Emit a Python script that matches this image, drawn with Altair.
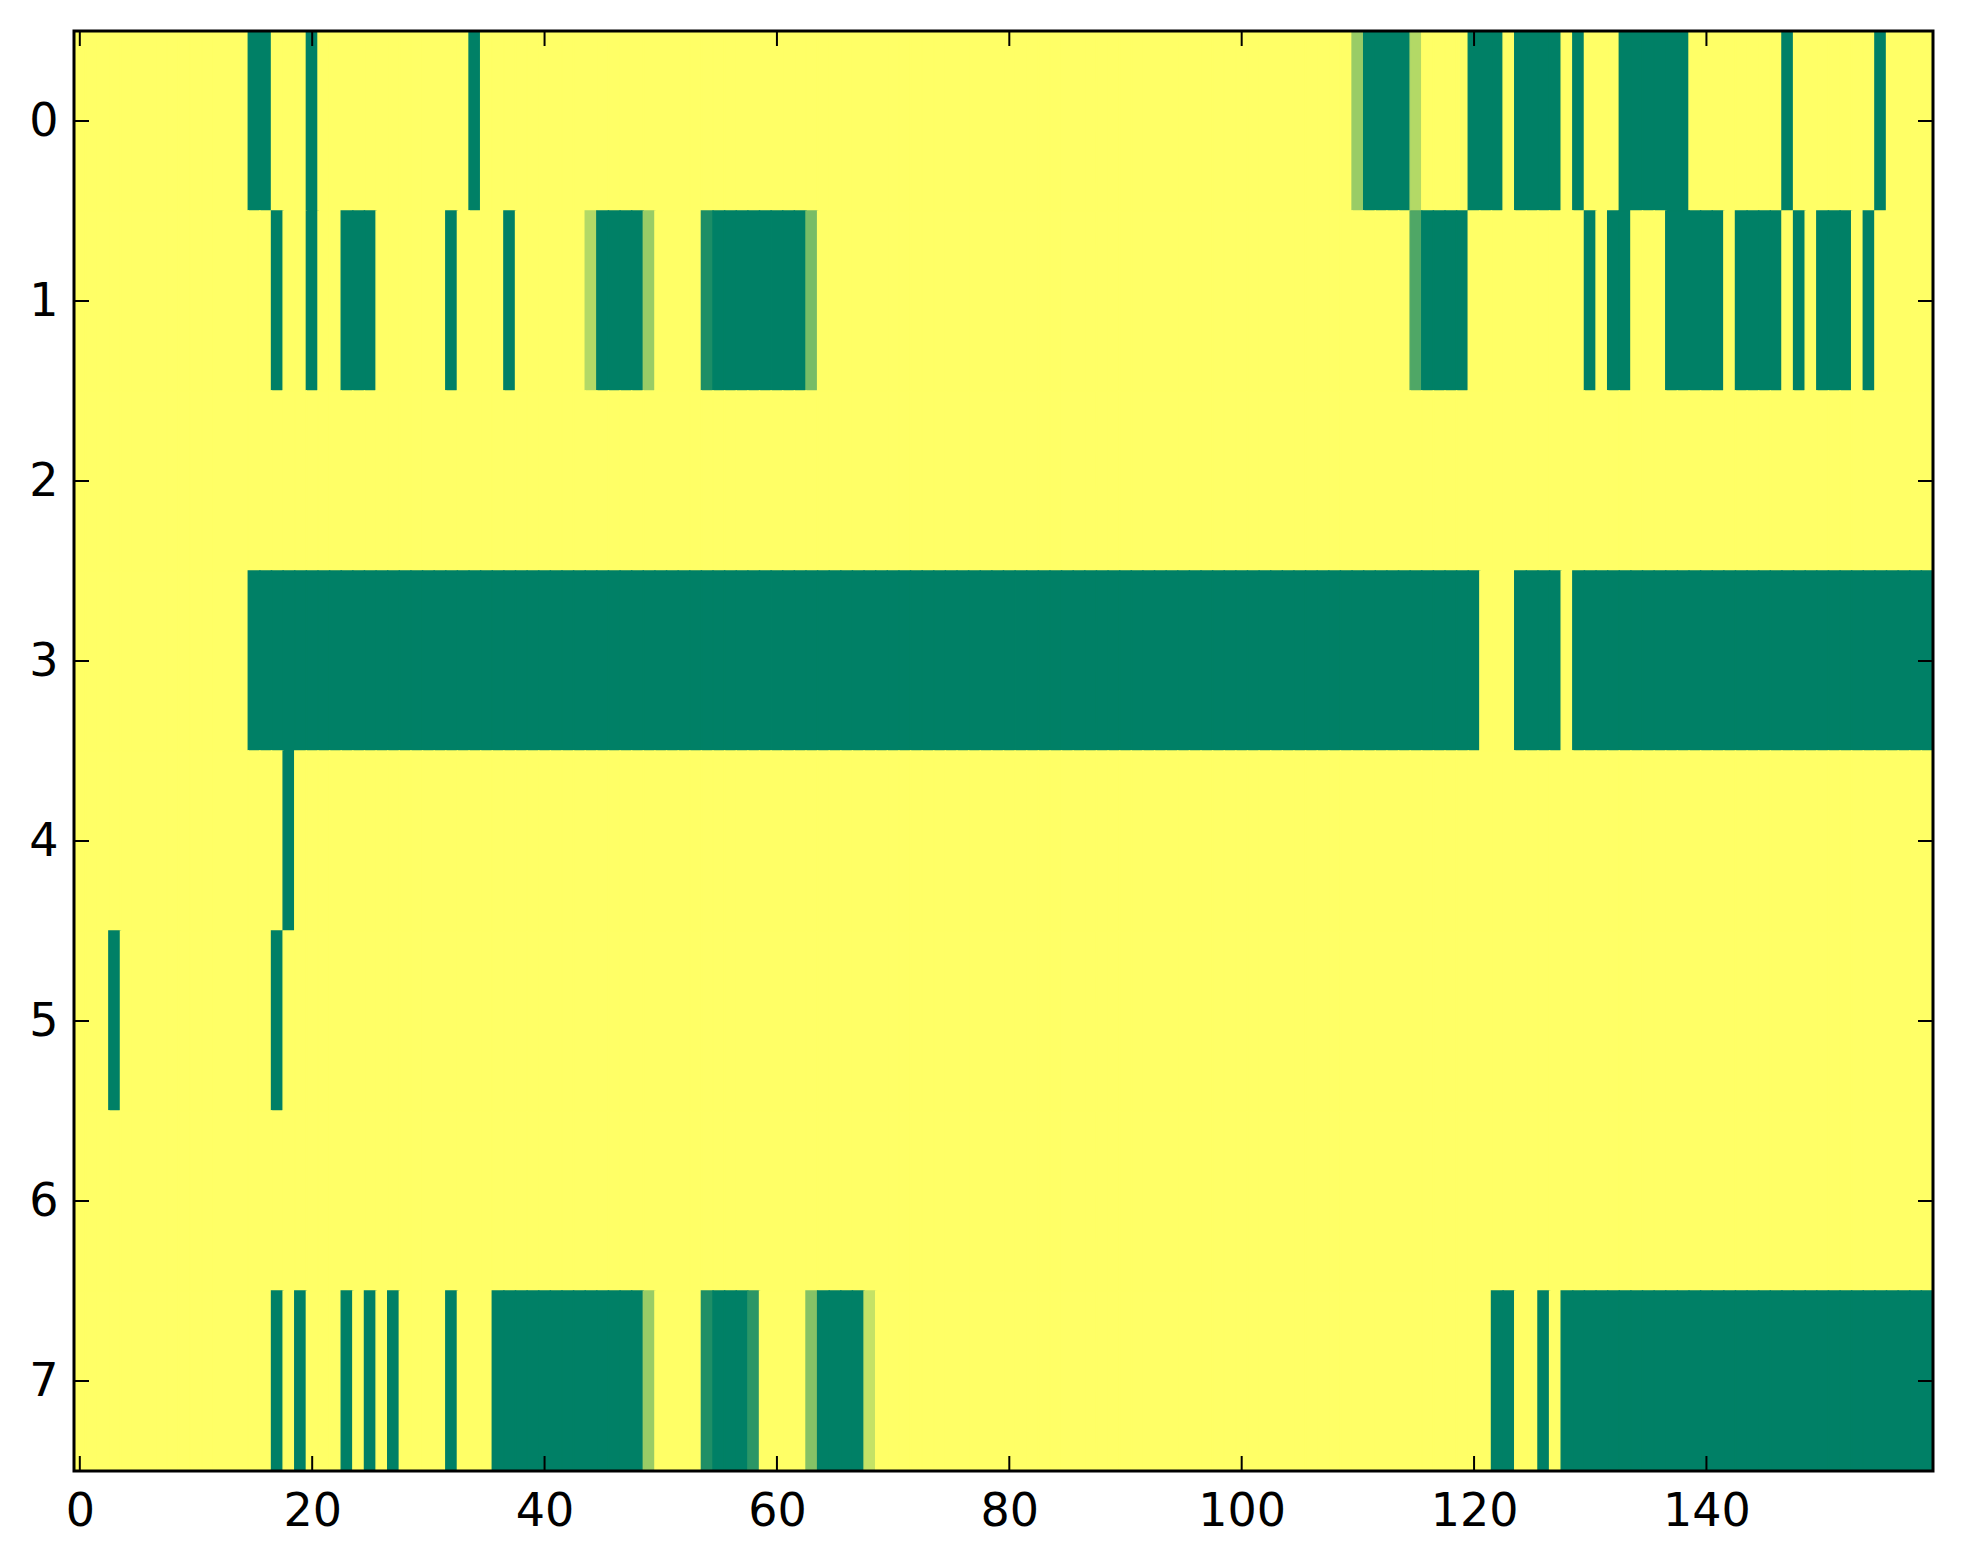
import altair as alt
import pandas as pd

# ---- cell values (8 rows x 160 columns) ----
row0 = [
    1, 1, 1, 1, 1, 1, 1, 1, 1, 1, 1, 1, 1, 1, 1, 0, 0, 1, 1, 1,
    0, 1, 1, 1, 1, 1, 1, 1, 1, 1, 1, 1, 1, 1, 0, 1, 1, 1, 1, 1,
    1, 1, 1, 1, 1, 1, 1, 1, 1, 1, 1, 1, 1, 1, 1, 1, 1, 1, 1, 1,
    1, 1, 1, 1, 1, 1, 1, 1, 1, 1, 1, 1, 1, 1, 1, 1, 1, 1, 1, 1,
    1, 1, 1, 1, 1, 1, 1, 1, 1, 1, 1, 1, 1, 1, 1, 1, 1, 1, 1, 1,
    1, 1, 1, 1, 1, 1, 1, 1, 1, 1, 0.6, 0, 0, 0, 0, 0.7, 1, 1, 1, 1,
    0, 0, 0, 1, 0, 0, 0, 0, 1, 0, 1, 1, 1, 0, 0, 0, 0, 0, 0, 1,
    1, 1, 1, 1, 1, 1, 1, 0, 1, 1, 1, 1, 1, 1, 1, 0, 1, 1, 1, 1,
]
row1 = [
    1, 1, 1, 1, 1, 1, 1, 1, 1, 1, 1, 1, 1, 1, 1, 1, 1, 0, 1, 1,
    0, 1, 1, 0, 0, 0, 1, 1, 1, 1, 1, 1, 0, 1, 1, 1, 1, 0, 1, 1,
    1, 1, 1, 1, 0.7, 0, 0, 0, 0, 0.6, 1, 1, 1, 1, 0.11, 0, 0, 0, 0, 0,
    0, 0, 0, 0.47, 1, 1, 1, 1, 1, 1, 1, 1, 1, 1, 1, 1, 1, 1, 1, 1,
    1, 1, 1, 1, 1, 1, 1, 1, 1, 1, 1, 1, 1, 1, 1, 1, 1, 1, 1, 1,
    1, 1, 1, 1, 1, 1, 1, 1, 1, 1, 1, 1, 1, 1, 1, 0.31, 0, 0, 0, 0,
    1, 1, 1, 1, 1, 1, 1, 1, 1, 1, 0, 1, 0, 0, 1, 1, 1, 0, 0, 0,
    0, 0, 1, 0, 0, 0, 0, 1, 0, 1, 0, 0, 0, 1, 0, 1, 1, 1, 1, 1,
]
row2 = [
    1, 1, 1, 1, 1, 1, 1, 1, 1, 1, 1, 1, 1, 1, 1, 1, 1, 1, 1, 1,
    1, 1, 1, 1, 1, 1, 1, 1, 1, 1, 1, 1, 1, 1, 1, 1, 1, 1, 1, 1,
    1, 1, 1, 1, 1, 1, 1, 1, 1, 1, 1, 1, 1, 1, 1, 1, 1, 1, 1, 1,
    1, 1, 1, 1, 1, 1, 1, 1, 1, 1, 1, 1, 1, 1, 1, 1, 1, 1, 1, 1,
    1, 1, 1, 1, 1, 1, 1, 1, 1, 1, 1, 1, 1, 1, 1, 1, 1, 1, 1, 1,
    1, 1, 1, 1, 1, 1, 1, 1, 1, 1, 1, 1, 1, 1, 1, 1, 1, 1, 1, 1,
    1, 1, 1, 1, 1, 1, 1, 1, 1, 1, 1, 1, 1, 1, 1, 1, 1, 1, 1, 1,
    1, 1, 1, 1, 1, 1, 1, 1, 1, 1, 1, 1, 1, 1, 1, 1, 1, 1, 1, 1,
]
row3 = [
    1, 1, 1, 1, 1, 1, 1, 1, 1, 1, 1, 1, 1, 1, 1, 0, 0, 0, 0, 0,
    0, 0, 0, 0, 0, 0, 0, 0, 0, 0, 0, 0, 0, 0, 0, 0, 0, 0, 0, 0,
    0, 0, 0, 0, 0, 0, 0, 0, 0, 0, 0, 0, 0, 0, 0, 0, 0, 0, 0, 0,
    0, 0, 0, 0, 0, 0, 0, 0, 0, 0, 0, 0, 0, 0, 0, 0, 0, 0, 0, 0,
    0, 0, 0, 0, 0, 0, 0, 0, 0, 0, 0, 0, 0, 0, 0, 0, 0, 0, 0, 0,
    0, 0, 0, 0, 0, 0, 0, 0, 0, 0, 0, 0, 0, 0, 0, 0, 0, 0, 0, 0,
    0, 1, 1, 1, 0, 0, 0, 0, 1, 0, 0, 0, 0, 0, 0, 0, 0, 0, 0, 0,
    0, 0, 0, 0, 0, 0, 0, 0, 0, 0, 0, 0, 0, 0, 0, 0, 0, 0, 0, 0,
]
row4 = [
    1, 1, 1, 1, 1, 1, 1, 1, 1, 1, 1, 1, 1, 1, 1, 1, 1, 1, 0, 1,
    1, 1, 1, 1, 1, 1, 1, 1, 1, 1, 1, 1, 1, 1, 1, 1, 1, 1, 1, 1,
    1, 1, 1, 1, 1, 1, 1, 1, 1, 1, 1, 1, 1, 1, 1, 1, 1, 1, 1, 1,
    1, 1, 1, 1, 1, 1, 1, 1, 1, 1, 1, 1, 1, 1, 1, 1, 1, 1, 1, 1,
    1, 1, 1, 1, 1, 1, 1, 1, 1, 1, 1, 1, 1, 1, 1, 1, 1, 1, 1, 1,
    1, 1, 1, 1, 1, 1, 1, 1, 1, 1, 1, 1, 1, 1, 1, 1, 1, 1, 1, 1,
    1, 1, 1, 1, 1, 1, 1, 1, 1, 1, 1, 1, 1, 1, 1, 1, 1, 1, 1, 1,
    1, 1, 1, 1, 1, 1, 1, 1, 1, 1, 1, 1, 1, 1, 1, 1, 1, 1, 1, 1,
]
row5 = [
    1, 1, 1, 0, 1, 1, 1, 1, 1, 1, 1, 1, 1, 1, 1, 1, 1, 0, 1, 1,
    1, 1, 1, 1, 1, 1, 1, 1, 1, 1, 1, 1, 1, 1, 1, 1, 1, 1, 1, 1,
    1, 1, 1, 1, 1, 1, 1, 1, 1, 1, 1, 1, 1, 1, 1, 1, 1, 1, 1, 1,
    1, 1, 1, 1, 1, 1, 1, 1, 1, 1, 1, 1, 1, 1, 1, 1, 1, 1, 1, 1,
    1, 1, 1, 1, 1, 1, 1, 1, 1, 1, 1, 1, 1, 1, 1, 1, 1, 1, 1, 1,
    1, 1, 1, 1, 1, 1, 1, 1, 1, 1, 1, 1, 1, 1, 1, 1, 1, 1, 1, 1,
    1, 1, 1, 1, 1, 1, 1, 1, 1, 1, 1, 1, 1, 1, 1, 1, 1, 1, 1, 1,
    1, 1, 1, 1, 1, 1, 1, 1, 1, 1, 1, 1, 1, 1, 1, 1, 1, 1, 1, 1,
]
row6 = [
    1, 1, 1, 1, 1, 1, 1, 1, 1, 1, 1, 1, 1, 1, 1, 1, 1, 1, 1, 1,
    1, 1, 1, 1, 1, 1, 1, 1, 1, 1, 1, 1, 1, 1, 1, 1, 1, 1, 1, 1,
    1, 1, 1, 1, 1, 1, 1, 1, 1, 1, 1, 1, 1, 1, 1, 1, 1, 1, 1, 1,
    1, 1, 1, 1, 1, 1, 1, 1, 1, 1, 1, 1, 1, 1, 1, 1, 1, 1, 1, 1,
    1, 1, 1, 1, 1, 1, 1, 1, 1, 1, 1, 1, 1, 1, 1, 1, 1, 1, 1, 1,
    1, 1, 1, 1, 1, 1, 1, 1, 1, 1, 1, 1, 1, 1, 1, 1, 1, 1, 1, 1,
    1, 1, 1, 1, 1, 1, 1, 1, 1, 1, 1, 1, 1, 1, 1, 1, 1, 1, 1, 1,
    1, 1, 1, 1, 1, 1, 1, 1, 1, 1, 1, 1, 1, 1, 1, 1, 1, 1, 1, 1,
]
row7 = [
    1, 1, 1, 1, 1, 1, 1, 1, 1, 1, 1, 1, 1, 1, 1, 1, 1, 0, 1, 0,
    1, 1, 1, 0, 1, 0, 1, 0, 1, 1, 1, 1, 0, 1, 1, 1, 0, 0, 0, 0,
    0, 0, 0, 0, 0, 0, 0, 0, 0, 0.6, 1, 1, 1, 1, 0.12, 0, 0, 0, 0.17, 1,
    1, 1, 1, 0.52, 0, 0, 0, 0, 0.77, 1, 1, 1, 1, 1, 1, 1, 1, 1, 1, 1,
    1, 1, 1, 1, 1, 1, 1, 1, 1, 1, 1, 1, 1, 1, 1, 1, 1, 1, 1, 1,
    1, 1, 1, 1, 1, 1, 1, 1, 1, 1, 1, 1, 1, 1, 1, 1, 1, 1, 1, 1,
    1, 1, 0, 0, 1, 1, 0, 1, 0, 0, 0, 0, 0, 0, 0, 0, 0, 0, 0, 0,
    0, 0, 0, 0, 0, 0, 0, 0, 0, 0, 0, 0, 0, 0, 0, 0, 0, 0, 0, 0,
]
rows = [row0, row1, row2, row3, row4, row5, row6, row7]

x_ticks = [0, 20, 40, 60, 80, 100, 120, 140]
y_ticks = [0, 1, 2, 3, 4, 5, 6, 7]

# ---- build the long table ----
records = []
for r, vals in enumerate(rows):
    for c, v in enumerate(vals):
        records.append({"row": r, "col": c, "v": v})
df = pd.DataFrame(records)
xt_df = pd.DataFrame({"t": x_ticks})
yt_df = pd.DataFrame({"t": y_ticks})

W, H = 1859, 1440
TICK = 15
FONT = "DejaVu Sans"

xscale = alt.Scale(domain=[-0.5, 159.5], nice=False, zero=False)
yscale = alt.Scale(domain=[-0.5, 7.5], nice=False, zero=False, reverse=True)
cscale = alt.Scale(domain=[0, 1], range=["#008066", "#ffff66"], interpolate="rgb")

xaxis = alt.Axis(values=x_ticks, title=None, grid=False, domain=False, ticks=False,
                 tickSize=0, labelFontSize=46, labelFont=FONT, labelColor="black",
                 labelPadding=18, format="d")
yaxis = alt.Axis(values=y_ticks, title=None, grid=False, domain=False, ticks=False,
                 tickSize=0, labelFontSize=46, labelFont=FONT, labelColor="black",
                 labelPadding=16, format="d")

heat = alt.Chart(df).transform_calculate(
    x0="datum.col - 0.5", x1="datum.col + 0.5",
    y0="datum.row - 0.5", y1="datum.row + 0.5",
).mark_rect(strokeWidth=1.4).encode(
    x=alt.X("x0:Q", scale=xscale, axis=xaxis),
    x2="x1:Q",
    y=alt.Y("y0:Q", scale=yscale, axis=yaxis),
    y2="y1:Q",
    color=alt.Color("v:Q", scale=cscale, legend=None),
    stroke=alt.Color("v:Q", scale=cscale, legend=None),
)

tick_style = dict(color="black", strokeWidth=2)
xt_bottom = alt.Chart(xt_df).mark_rule(**tick_style).encode(
    x=alt.X("t:Q", scale=xscale, axis=xaxis), y=alt.value(H), y2=alt.value(H - TICK))
xt_top = alt.Chart(xt_df).mark_rule(**tick_style).encode(
    x=alt.X("t:Q", scale=xscale, axis=xaxis), y=alt.value(0), y2=alt.value(TICK))
yt_left = alt.Chart(yt_df).mark_rule(**tick_style).encode(
    y=alt.Y("t:Q", scale=yscale, axis=yaxis), x=alt.value(0), x2=alt.value(TICK))
yt_right = alt.Chart(yt_df).mark_rule(**tick_style).encode(
    y=alt.Y("t:Q", scale=yscale, axis=yaxis), x=alt.value(W), x2=alt.value(W - TICK))

frame = alt.Chart(pd.DataFrame({"a": [0]})).mark_rect(
    filled=False, stroke="black", strokeWidth=3
).encode(x=alt.value(0), x2=alt.value(W), y=alt.value(0), y2=alt.value(H))

chart = alt.layer(heat, xt_bottom, xt_top, yt_left, yt_right, frame).properties(
    width=W, height=H,
    padding={"left": 20, "top": 21, "right": 20, "bottom": 20},
    background="white",
).configure_view(stroke=None)

chart.save("out.html", embed_options={"renderer": "svg", "actions": False})
